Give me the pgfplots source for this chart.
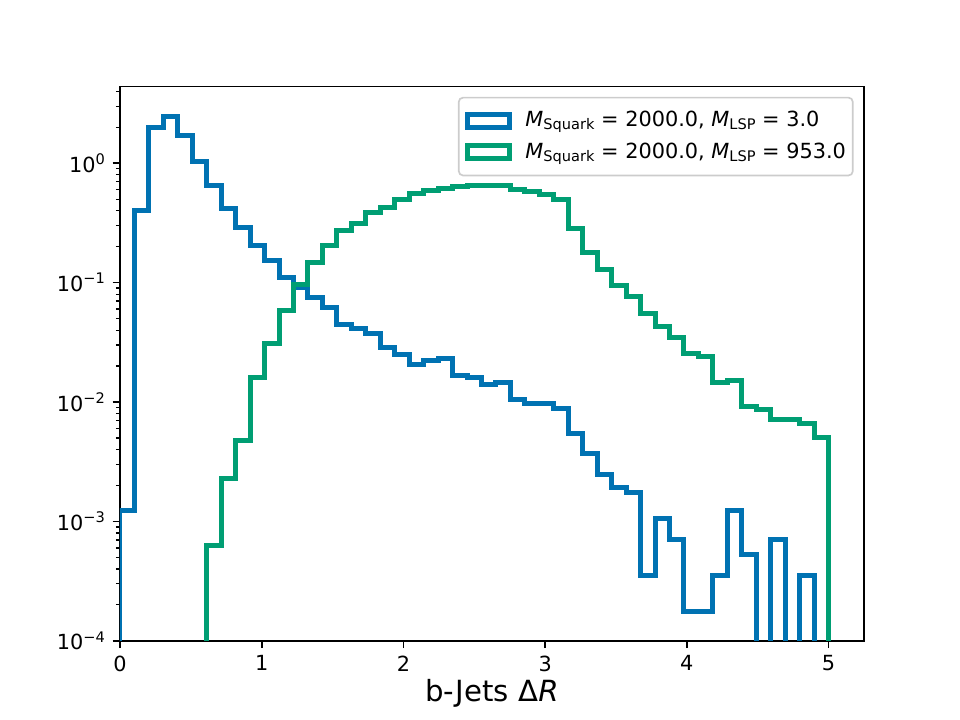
\documentclass[border=0pt]{standalone}
\usepackage{fontspec}
\setmainfont{DejaVu Sans}
\usepackage{pgfplots}
\usepackage{pgfplotstable}
\pgfplotsset{compat=1.18}
\definecolor{cblue}{RGB}{0,114,178}
\definecolor{cgreen}{RGB}{0,158,115}
\newcommand{\tp}[1]{10\raisebox{3.7pt}{\fontsize{7}{7}\selectfont #1}}
\newcommand{\sub}[1]{\raisebox{-1.5pt}{\fontsize{7}{7}\selectfont #1}}
\newcommand{\lstrut}{\rule[-1.7pt]{0pt}{9pt}}

\pgfplotstableread{
x y
0 1e-6
0 1.225e-3
0.10204 0.40
0.20408 2.01
0.30612 2.44
0.40816 1.72
0.51020 1.04
0.61224 0.65
0.71429 0.417
0.81633 0.287
0.91837 0.205
1.02041 0.154
1.12245 0.111
1.22449 0.0918
1.32653 0.0757
1.42857 0.0623
1.53061 0.0444
1.63265 0.0414
1.73469 0.0373
1.83673 0.0285
1.93878 0.0250
2.04082 0.0205
2.14286 0.0223
2.24490 0.0230
2.34694 0.0167
2.44898 0.0161
2.55102 0.0141
2.65306 0.0147
2.75510 0.0104
2.85714 0.0097
2.95918 0.0097
3.06122 0.0088
3.16327 0.0054
3.26531 0.00368
3.36735 0.00245
3.46939 0.00193
3.57143 0.00175
3.67347 0.00035
3.77551 0.00105
3.87755 0.00070
3.97959 0.000175
4.08163 0.000175
4.18367 0.00035
4.28571 0.001225
4.38776 0.000525
4.48980 1e-6
4.59184 0.0007
4.69388 1e-6
4.79592 0.00035
4.89796 1e-6
5 1e-6
}\blue

\pgfplotstableread{
x y
0.61224 1e-6
0.61224 6.26e-4
0.71429 2.27e-3
0.81633 4.75e-3
0.91837 0.0160
1.02041 0.0311
1.12245 0.0585
1.22449 0.097
1.32653 0.147
1.42857 0.203
1.53061 0.272
1.63265 0.312
1.73469 0.385
1.83673 0.423
1.93878 0.496
2.04082 0.557
2.14286 0.586
2.24490 0.614
2.34694 0.634
2.44898 0.654
2.55102 0.654
2.65306 0.645
2.75510 0.602
2.85714 0.575
2.95918 0.545
3.06122 0.496
3.16327 0.284
3.26531 0.180
3.36735 0.128
3.46939 0.095
3.57143 0.0762
3.67347 0.0548
3.77551 0.0430
3.87755 0.0349
3.97959 0.0254
4.08163 0.0241
4.18367 0.0145
4.28571 0.0150
4.38776 0.0092
4.48980 0.0087
4.59184 0.0072
4.69388 0.0072
4.79592 0.0066
4.89796 0.0050
5 1e-6
}\green

\begin{document}
\begin{tikzpicture}
\path[use as bounding box] (-57.6pt,-38.016pt) rectangle (403.2pt,307.584pt);
\begin{axis}[
  at={(0pt,0pt)}, anchor=south west,
  scale only axis, width=357.12pt, height=266.112pt,
  ymode=log, xmin=0, xmax=5.25, ymin=1e-4, ymax=4.4,
  xtick={0,1,2,3,4,5}, xticklabels={0,1,2,3,4,5},
  ytick={1e-4,1e-3,1e-2,1e-1,1},
  yticklabels={\tp{−4},\tp{−3},\tp{−2},\tp{−1},\tp{0}},
  minor ytick={2e-4,3e-4,4e-4,5e-4,6e-4,7e-4,8e-4,9e-4,
               2e-3,3e-3,4e-3,5e-3,6e-3,7e-3,8e-3,9e-3,
               2e-2,3e-2,4e-2,5e-2,6e-2,7e-2,8e-2,9e-2,
               2e-1,3e-1,4e-1,5e-1,6e-1,7e-1,8e-1,9e-1,
               2,3,4},
  tick align=outside, tick pos=left,
  major tick length=3.5pt, minor tick length=2pt,
  major tick style={line width=0.8pt, black},
  minor tick style={line width=0.6pt, black},
  axis line style={line width=0.8pt},
  ticklabel style={font=\fontsize{10}{12}\selectfont, inner sep=0pt},
  xticklabel style={yshift=-3.5pt},
  yticklabel style={xshift=-3.5pt},
  xlabel={b-Jets Δ\textit{R}},
  xlabel style={font=\fontsize{14}{17}\selectfont},
  legend cell align=left,
  legend style={at={(axis description cs:1,1)}, anchor=north east,
    xshift=-5pt, yshift=-5pt, draw=black!20, line width=0.8pt,
    rounded corners=2pt, fill=white,
    font=\fontsize{10}{12}\selectfont,
    inner xsep=3pt, inner ysep=6.6pt, row sep=6.3pt,
    nodes={inner sep=0pt}},
  legend image code/.code={\draw[#1, sharp corners] (0pt,-3.1pt) rectangle (20pt,3.1pt);},
]
\addplot[const plot, cblue, line width=2.4pt, line join=miter] table[x=x,y=y] {\blue};
\addlegendentry{\makebox[160.7pt][l]{\hspace{6.6pt}\lstrut\textit{M}\sub{Squark} = 2000.0, \textit{M}\sub{LSP} = 3.0}}
\addplot[const plot, cgreen, line width=2.4pt, line join=miter] table[x=x,y=y] {\green};
\addlegendentry{\makebox[160.7pt][l]{\hspace{6.6pt}\lstrut\textit{M}\sub{Squark} = 2000.0, \textit{M}\sub{LSP} = 953.0}}
\end{axis}
\end{tikzpicture}
\end{document}
